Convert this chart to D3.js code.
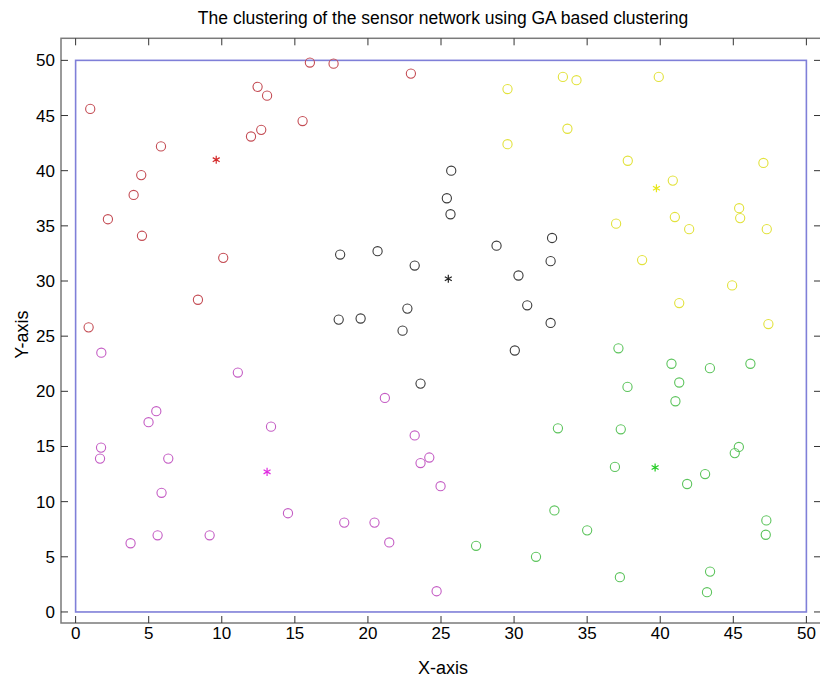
<!DOCTYPE html>
<html>
<head>
<meta charset="utf-8">
<script src="https://cdn.jsdelivr.net/npm/d3@7"></script>
<style>
  body { margin: 0; background: #fff; }
  svg text { font-family: Arial, "Liberation Sans", Helvetica, sans-serif; }
</style>
</head>
<body>
<svg id="chart" width="820" height="685"></svg>
<script>
// cluster members as [x, y]
var redPts = [[1.0,45.6],[12.45,47.6],[13.1,46.8],[12.7,43.7],[12.0,43.1],[5.84,42.2],[4.49,39.6],
  [3.97,37.8],[2.21,35.6],[4.54,34.1],[10.1,32.1],[8.37,28.3],[0.89,25.8],[16.03,49.8],[17.65,49.7],
  [22.94,48.8],[15.53,44.5]];
var blackPts = [[25.7,40.0],[25.4,37.5],[25.65,36.05],[18.1,32.4],[20.66,32.7],[23.2,31.4],[28.8,33.2],
  [30.3,30.5],[30.9,27.8],[18.0,26.5],[19.5,26.6],[22.7,27.5],[22.37,25.5],[32.6,33.9],[32.5,31.8],
  [32.5,26.2],[30.05,23.7],[23.6,20.7]];
var magentaPts = [[1.76,23.5],[11.1,21.7],[5.52,18.2],[4.99,17.2],[13.37,16.8],[1.74,14.9],[1.67,13.9],
  [6.34,13.9],[5.88,10.8],[3.76,6.23],[5.61,6.95],[9.17,6.95],[21.16,19.4],[23.2,16.0],[23.6,13.5],
  [24.2,14.0],[24.97,11.4],[14.53,8.95],[18.38,8.1],[20.45,8.1],[21.46,6.3],[24.7,1.88]];
var greenPts = [[27.4,6.0],[31.5,5.0],[37.14,23.9],[40.77,22.5],[43.4,22.1],[46.17,22.5],[37.76,20.4],
  [41.3,20.8],[41.04,19.1],[33.0,16.65],[37.3,16.56],[45.38,14.96],[45.1,14.4],[36.9,13.15],[43.07,12.5],
  [41.84,11.6],[32.76,9.2],[35.0,7.4],[47.26,8.3],[47.22,7.0],[37.24,3.15],[43.41,3.66],[43.2,1.79]];
var yellowPts = [[33.34,48.5],[34.27,48.2],[39.9,48.5],[29.55,47.4],[29.55,42.4],[33.65,43.8],[37.78,40.9],
  [47.06,40.7],[40.86,39.1],[36.98,35.2],[41.0,35.8],[41.98,34.7],[45.4,36.6],[45.47,35.7],[47.29,34.7],
  [38.76,31.9],[44.92,29.6],[41.3,28.0],[47.4,26.1]];

// cluster heads
var heads = [[9.62,41.0],[25.5,30.2],[13.1,12.7],[39.65,13.1],[39.74,38.4]];

var xTicks = [0,5,10,15,20,25,30,35,40,45,50];
var yTicks = [0,5,10,15,20,25,30,35,40,45,50];
var field = [0, 50]; // sensor field border

var clusters = [
  {pts: redPts, color: "#c44c54", head: "#d42a2a"},
  {pts: blackPts, color: "#3a3a3a", head: "#222"},
  {pts: magentaPts, color: "#c45cc4", head: "#e02ce0"},
  {pts: greenPts, color: "#5cc45c", head: "#22cc22"},
  {pts: yellowPts, color: "#e2e23c", head: "#e8e81a"}
];

var svg = d3.select("#chart");
var box = {left: 61, right: 821, top: 38.3, bottom: 623};

var x = d3.scaleLinear().domain([-1, 51]).range([box.left, box.right]);
var y = d3.scaleLinear().domain([-1, 52]).range([box.bottom, box.top]);

var tickLen = 7;
var axisCol = "#7a7a7a";

// axes box
svg.append("rect")
  .attr("x", box.left).attr("y", box.top)
  .attr("width", box.right - box.left).attr("height", box.bottom - box.top)
  .attr("fill", "none").attr("stroke", axisCol).attr("stroke-width", 1.5);

// inward ticks, all sides
var g = svg.append("g").attr("stroke", "#333").attr("stroke-width", 1);
xTicks.forEach(function (t) {
  g.append("line").attr("x1", x(t)).attr("x2", x(t)).attr("y1", box.bottom).attr("y2", box.bottom - tickLen);
  g.append("line").attr("x1", x(t)).attr("x2", x(t)).attr("y1", box.top).attr("y2", box.top + tickLen);
});
yTicks.forEach(function (t) {
  g.append("line").attr("x1", box.left).attr("x2", box.left + tickLen).attr("y1", y(t)).attr("y2", y(t));
  g.append("line").attr("x1", box.right).attr("x2", box.right - tickLen).attr("y1", y(t)).attr("y2", y(t));
});

svg.selectAll(".xlab").data(xTicks).enter().append("text")
  .attr("x", function (d) { return x(d); })
  .attr("y", box.bottom + 16)
  .attr("text-anchor", "middle")
  .attr("font-size", 17)
  .attr("transform-origin", "center")
  .text(function (d) { return d; });

svg.selectAll(".ylab").data(yTicks).enter().append("text")
  .attr("x", box.left - 6)
  .attr("y", function (d) { return y(d) + 6; })
  .attr("text-anchor", "end")
  .attr("font-size", 17)
  .text(function (d) { return d; });

// field border
svg.append("rect")
  .attr("x", x(field[0])).attr("y", y(field[1]))
  .attr("width", x(field[1]) - x(field[0])).attr("height", y(field[0]) - y(field[1]))
  .attr("fill", "none").attr("stroke", "#7f7fd8").attr("stroke-width", 1.6);

// sensor nodes
clusters.forEach(function (c, i) {
  svg.append("g").selectAll("circle").data(c.pts).enter().append("circle")
    .attr("cx", function (d) { return x(d[0]); })
    .attr("cy", function (d) { return y(d[1]); })
    .attr("r", 4.6)
    .attr("fill", "none")
    .attr("stroke", c.color)
    .attr("stroke-width", 1.1);
  var h = heads[i];
  svg.append("path")
    .attr("d", d3.symbol().type(d3.symbolAsterisk).size(45)())
    .attr("transform", "translate(" + x(h[0]) + "," + y(h[1]) + ")")
    .attr("fill", "none")
    .attr("stroke", c.head)
    .attr("stroke-width", 1.2);
});

svg.append("text")
  .attr("x", (box.left + box.right) / 2 + 2).attr("y", 24)
  .attr("text-anchor", "middle").attr("font-size", 17.5)
  .text("The clustering of the sensor network using GA based clustering");

svg.append("text")
  .attr("x", (box.left + box.right) / 2 + 2).attr("y", 674)
  .attr("text-anchor", "middle").attr("font-size", 18)
  .text("X-axis");

svg.append("text")
  .attr("transform", "translate(28," + ((box.top + box.bottom) / 2 + 4) + ") rotate(-90)")
  .attr("text-anchor", "middle").attr("font-size", 18)
  .text("Y-axis");
</script>
</body>
</html>
